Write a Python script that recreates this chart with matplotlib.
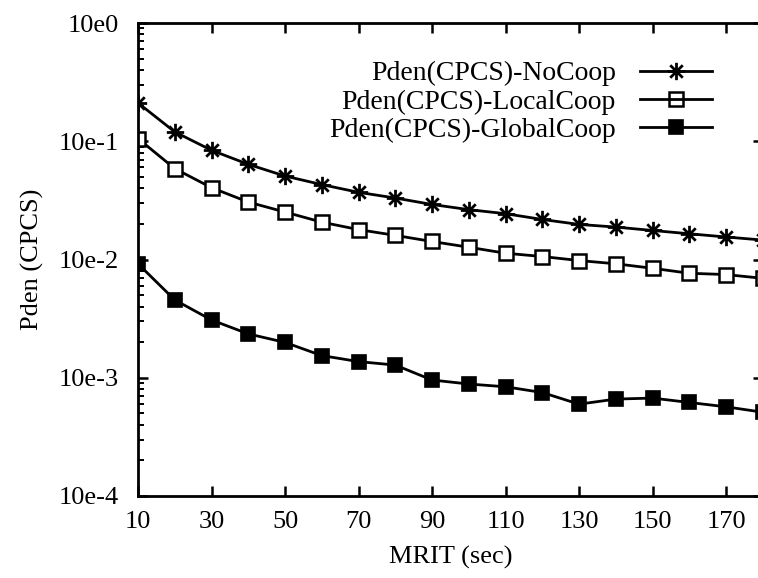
import numpy as np
import matplotlib
matplotlib.use("Agg")
import matplotlib.pyplot as plt
from matplotlib.path import Path
from matplotlib.lines import Line2D
from matplotlib.ticker import FixedLocator, FixedFormatter, LogLocator, NullFormatter

# ---- data ----
mrit = [10, 20, 30, 40, 50, 60, 70, 80, 90, 100, 110, 120, 130, 140, 150, 160, 170, 180]
no_coop = [0.211, 0.120, 0.0839, 0.0638, 0.0508, 0.0430, 0.0370, 0.0331, 0.0292,
           0.0264, 0.0244, 0.0218, 0.0198, 0.0188, 0.0176, 0.0165, 0.0155, 0.0146]
local_coop = [0.1054, 0.0587, 0.0405, 0.0306, 0.0252, 0.0207, 0.0179, 0.0160, 0.0142,
              0.0127, 0.0113, 0.0106, 0.0098, 0.0092, 0.00843, 0.00765, 0.00746, 0.00693]
global_coop = [0.0092, 0.00455, 0.00308, 0.00235, 0.00199, 0.00154, 0.00137, 0.00128, 0.000957,
               0.000885, 0.000839, 0.000750, 0.000598, 0.000660, 0.000673, 0.000618, 0.000568, 0.000511]
labels = ["Pden(CPCS)-NoCoop", "Pden(CPCS)-LocalCoop", "Pden(CPCS)-GlobalCoop"]
x_ticks = [10, 30, 50, 70, 90, 110, 130, 150, 170]
y_ticks = [1e-4, 1e-3, 1e-2, 1e-1, 1e0]
y_tick_labels = ["10e-4", "10e-3", "10e-2", "10e-1", "10e0"]

plt.rcParams['font.family'] = ['Liberation Serif', 'DejaVu Serif']
FS = 19
LFS = 20

W, H = 758, 578
fig = plt.figure(figsize=(W / 100, H / 100), dpi=100)
left, right_px, top_px, bot_px = 138, 762.8, 23, 496
ax = fig.add_axes([left / W, (H - bot_px) / H, (right_px - left) / W, (bot_px - top_px) / H])

star = Path([(-1, 0), (1, 0), (0, -1), (0, 1), (-0.72, -0.72), (0.72, 0.72), (-0.72, 0.72), (0.72, -0.72)],
            [Path.MOVETO, Path.LINETO] * 4)

lw = 2.0
ms_star, ms_sq = 12.5, 10
ax.plot(mrit, no_coop, color='black', lw=lw, marker=star, ms=ms_star, mew=2.0)
ax.plot(mrit, local_coop, color='black', lw=lw, marker='s', ms=ms_sq, mew=1.8, mfc='white', mec='black')
ax.plot(mrit, global_coop, color='black', lw=lw, marker='s', ms=ms_sq, mew=1.2, mfc='black', mec='black')

ax.set_yscale('log')
ax.set_xlim(10, 180)
ax.set_ylim(1e-4, 1e0)
ax.xaxis.set_major_locator(FixedLocator(x_ticks))
ax.yaxis.set_major_locator(FixedLocator(y_ticks))
ax.yaxis.set_major_formatter(FixedFormatter(y_tick_labels))
ax.yaxis.set_minor_locator(LogLocator(base=10, subs=np.arange(2, 10)))
ax.yaxis.set_minor_formatter(NullFormatter())

ax.tick_params(axis='both', which='major', direction='in', length=7, width=1.8, labelsize=FS,
               top=True, right=True)
ax.tick_params(axis='y', which='major', pad=14)
ax.tick_params(axis='x', which='major', pad=11)
ax.tick_params(axis='y', which='minor', direction='in', length=4, width=1.4, right=False)
for s in ax.spines.values():
    s.set_linewidth(2.0)

ax.set_xlabel("MRIT (sec)", fontsize=FS, labelpad=9)
ax.set_ylabel("Pden (CPCS)", fontsize=FS, labelpad=10)

handles = [
    Line2D([], [], color='black', lw=lw, marker=star, ms=ms_star, mew=2.0),
    Line2D([], [], color='black', lw=lw, marker='s', ms=ms_sq, mew=1.8, mfc='none', mec='black'),
    Line2D([], [], color='black', lw=lw, marker='s', ms=ms_sq, mew=1.2, mfc='black', mec='black'),
]
fs_px = LFS * 100 / 72
ax.legend(handles, labels, loc='upper right', bbox_to_anchor=(712 / W, (H - 61) / H),
          bbox_transform=fig.transFigure, frameon=False, markerfirst=False, fontsize=LFS,
          handlelength=72 / fs_px, handletextpad=24 / fs_px, labelspacing=0.1,
          borderpad=0, borderaxespad=0)

fig.savefig("out.png", dpi=100)
